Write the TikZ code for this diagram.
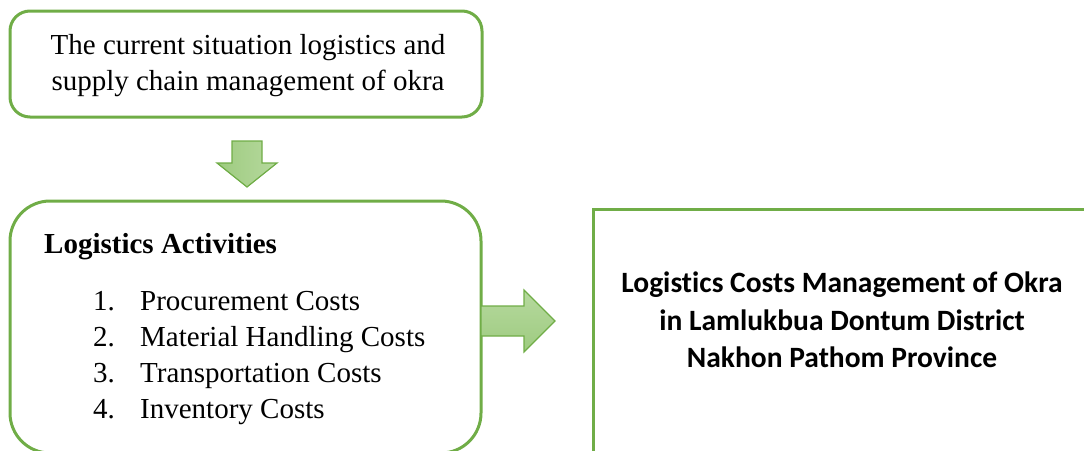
\documentclass[tikz,border=0pt]{standalone}
\usepackage{fontspec}
\setmainfont{Liberation Serif}
\newfontfamily\calibri[Ligatures=NoCommon]{Carlito}
\definecolor{boxgreen}{RGB}{112,173,71}
\definecolor{arrowleft}{RGB}{158,203,128}
\definecolor{arrowright}{RGB}{182,217,158}
\tikzset{
  greenbox/.style={draw=boxgreen,line width=3pt},
  blockarrow/.style={draw=boxgreen,line width=1.2pt,line join=miter},
  listtext/.style={anchor=base west,inner sep=0pt,font=\fontsize{29}{36}\selectfont}
}
\begin{document}
\begin{tikzpicture}[x=1pt,y=-1pt]
\useasboundingbox(0,0)rectangle(1084,450);
\clip(0,0)rectangle(1084,450);
%current situation
\draw[greenbox,rounded corners=20](10,11)rectangle(482,117);
\node[align=center,inner sep=0pt,font=\fontsize{29}{36}\selectfont](situation)at(248,66)
  {The current situation logistics and\\supply chain management of okra};
%down arrow
\draw[blockarrow,left color=arrowleft,right color=arrowright](232,141)--(262,141)--(262,163)--(277,163)--(247,187)--(217,163)--(232,163)--cycle;
%logistics activities
\draw[greenbox,rounded corners=40](10,201)rectangle(481,453);
\node[listtext,font=\fontsize{29}{36}\selectfont\bfseries](activities)at(44,253){Logistics Activities};
\node[listtext](num1)at(93,310){1.};
\node[listtext](item1)at(140,310){Procurement Costs};
\node[listtext](num2)at(93,346){2.};
\node[listtext](item2)at(140,346){Material Handling Costs};
\node[listtext](num3)at(93,382){3.};
\node[listtext](item3)at(140,382){Transportation Costs};
\node[listtext](num4)at(93,418){4.};
\node[listtext](item4)at(140,418){Inventory Costs};
%right arrow
\draw[blockarrow,top color=arrowright,bottom color=arrowleft](481,306)--(524,306)--(524,290)--(555,321)--(524,352)--(524,336)--(481,336)--cycle;
%costs management
\draw[greenbox](1090,209)--(593,209)--(593,460);
\node[align=center,inner sep=0pt,font=\calibri\bfseries\fontsize{29.5}{37.5}\selectfont](costs)at(842,320)
  {Logistics Costs Management of Okra\\in Lamlukbua Dontum District\\Nakhon Pathom Province};
\end{tikzpicture}
\end{document}
